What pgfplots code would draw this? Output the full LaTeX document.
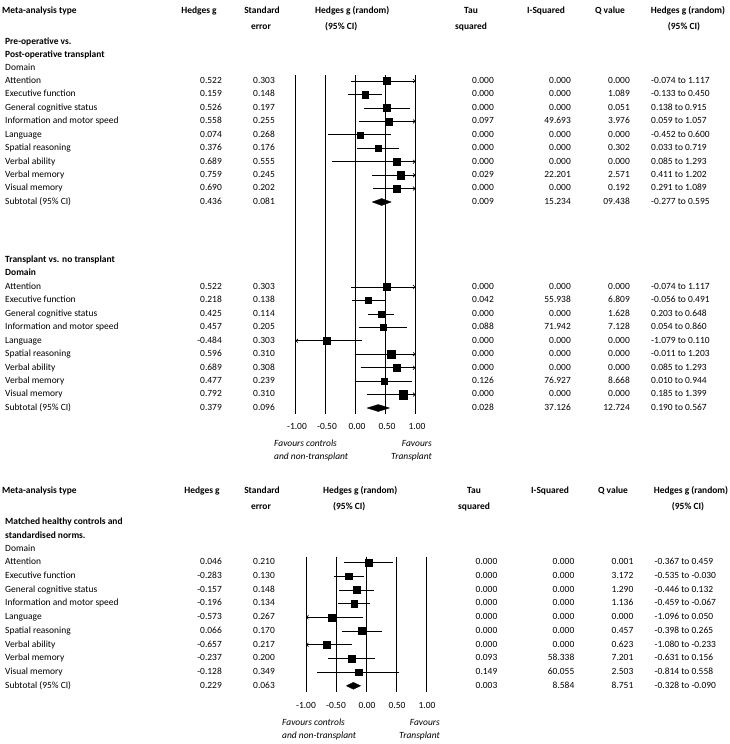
\documentclass[border=0pt]{standalone}
\usepackage{fontspec}
\setmainfont{Carlito}
\usepackage{pgfplots}
\pgfplotsset{compat=1.18}
\usetikzlibrary{arrows.meta}

\def\dx{0}
\newcommand\drow[8]{%
 \node[anchor=west] at (5bp,-#1bp) {#2};
 \node[anchor=east] at (222bp,-#1bp) {#3};
 \node[anchor=east] at (275bp,-#1bp) {#4};
 \node[anchor=east] at (494bp+\dx bp,-#1bp) {#5};
 \node[anchor=east] at (571bp+\dx bp,-#1bp) {#6};
 \node[anchor=east] at (630bp+\dx bp,-#1bp) {#7};
 \node[anchor=west] at (651bp+\dx bp,-#1bp) {#8};}

\pgfplotsset{
 cil/.style={black, line width=0.65bp, no marks},
 refl/.style={black, line width=0.8bp, no marks},
 rar/.style={-{Straight Barb[length=2bp,width=3.8bp]}},
 lar/.style={{Straight Barb[length=2bp,width=3.8bp]}-},
}
\newcommand\CI[4][]{\addplot[cil,#1] coordinates {(#2,#4) (#3,#4)};}
\newcommand\MK[3]{\addplot[only marks, mark=square*, mark size=#3bp, black] coordinates {(#1,#2)};}
\newcommand\VL[3]{\addplot[refl] coordinates {(#1,#2) (#1,#3)};}

\begin{document}
\begin{tikzpicture}[font=\fontsize{9.5}{11.4}\selectfont, every node/.style={inner sep=0pt, text height=6.6bp, text depth=2bp}]
\path[use as bounding box] (0,0) rectangle (730bp,-744bp);

% ---------------- top header ----------------
\begin{scope}[font=\fontsize{9.5}{11.4}\selectfont\bfseries]
\node[anchor=west] at (2bp,-11bp) {Meta-analysis type};
\node at (199bp,-11bp) {Hedges g};
\node at (262bp,-11bp) {Standard};
\node at (261bp,-27bp) {error};
\node[anchor=west] at (315bp,-11bp) {Hedges g (random)};
\node[anchor=west] at (325bp,-27bp) {(95\% CI)};
\node at (471bp,-11bp) {Tau};
\node at (471bp,-27bp) {squared};
\node at (546bp,-11bp) {I-Squared};
\node at (610bp,-11bp) {Q value};
\node at (688bp,-11bp) {Hedges g (random)};
\node at (684bp,-27bp) {(95\% CI)};
\node[anchor=west] at (5bp,-42bp) {Pre-operative vs.};
\node[anchor=west] at (5bp,-55bp) {Post-operative transplant};
\node[anchor=west] at (5bp,-260bp) {Transplant vs. no transplant};
\node[anchor=west] at (5bp,-273.5bp) {Domain};
\end{scope}
\node[anchor=west] at (5bp,-68bp) {Domain};

\drow{81}{Attention}{0.522}{0.303}{0.000}{0.000}{0.000}{-0.074 to 1.117}
\drow{94.5}{Executive function}{0.159}{0.148}{0.000}{0.000}{1.089}{-0.133 to 0.450}
\drow{107.9}{General cognitive status}{0.526}{0.197}{0.000}{0.000}{0.051}{0.138 to 0.915}
\drow{121.4}{Information and motor speed}{0.558}{0.255}{0.097}{49.693}{3.976}{0.059 to 1.057}
\drow{134.8}{Language}{0.074}{0.268}{0.000}{0.000}{0.000}{-0.452 to 0.600}
\drow{148.3}{Spatial reasoning}{0.376}{0.176}{0.000}{0.000}{0.302}{0.033 to 0.719}
\drow{161.7}{Verbal ability}{0.689}{0.555}{0.000}{0.000}{0.000}{0.085 to 1.293}
\drow{175.2}{Verbal memory}{0.759}{0.245}{0.029}{22.201}{2.571}{0.411 to 1.202}
\drow{188.6}{Visual memory}{0.690}{0.202}{0.000}{0.000}{0.192}{0.291 to 1.089}
\drow{202}{Subtotal (95\% CI)}{0.436}{0.081}{0.009}{15.234}{09.438}{-0.277 to 0.595}

\drow{287}{Attention}{0.522}{0.303}{0.000}{0.000}{0.000}{-0.074 to 1.117}
\drow{300.4}{Executive function}{0.218}{0.138}{0.042}{55.938}{6.809}{-0.056 to 0.491}
\drow{313.9}{General cognitive status}{0.425}{0.114}{0.000}{0.000}{1.628}{0.203 to 0.648}
\drow{327.3}{Information and motor speed}{0.457}{0.205}{0.088}{71.942}{7.128}{0.054 to 0.860}
\drow{340.8}{Language}{-0.484}{0.303}{0.000}{0.000}{0.000}{-1.079 to 0.110}
\drow{354.2}{Spatial reasoning}{0.596}{0.310}{0.000}{0.000}{0.000}{-0.011 to 1.203}
\drow{367.7}{Verbal ability}{0.689}{0.308}{0.000}{0.000}{0.000}{0.085 to 1.293}
\drow{381.1}{Verbal memory}{0.477}{0.239}{0.126}{76.927}{8.668}{0.010 to 0.944}
\drow{394.6}{Visual memory}{0.792}{0.310}{0.000}{0.000}{0.000}{0.185 to 1.399}
\drow{408}{Subtotal (95\% CI)}{0.379}{0.096}{0.028}{37.126}{12.724}{0.190 to 0.567}

% ticks and favours (top)
\node at (297bp,-427bp) {-1.00};
\node at (327bp,-427bp) {-0.50};
\node at (357bp,-427bp) {0.00};
\node at (387bp,-427bp) {0.50};
\node at (417bp,-427bp) {1.00};
\node[anchor=west] at (274bp,-444bp) {\itshape Favours controls};
\node[anchor=west] at (274bp,-457.5bp) {\itshape and non-transplant};
\node[anchor=east] at (432bp,-444bp) {\itshape Favours};
\node[anchor=east] at (432bp,-457.5bp) {\itshape Transplant};

% ---------------- bottom header ----------------
\begin{scope}[font=\fontsize{9.5}{11.4}\selectfont\bfseries]
\node[anchor=west] at (2bp,-491bp) {Meta-analysis type};
\node at (202bp,-491bp) {Hedges g};
\node at (262bp,-491bp) {Standard};
\node at (261bp,-507bp) {error};
\node[anchor=west] at (323bp,-491bp) {Hedges g (random)};
\node[anchor=west] at (333bp,-507bp) {(95\% CI)};
\node at (474bp,-491bp) {Tau};
\node at (474bp,-507bp) {squared};
\node at (550bp,-491bp) {I-Squared};
\node at (613bp,-491bp) {Q value};
\node at (691bp,-491bp) {Hedges g (random)};
\node at (688bp,-507bp) {(95\% CI)};
\node[anchor=west] at (5bp,-522bp) {Matched healthy controls and};
\node[anchor=west] at (5bp,-536bp) {standardised norms.};
\end{scope}
\node[anchor=west] at (5bp,-549.5bp) {Domain};

\def\dx{3.5}
\drow{562.5}{Attention}{0.046}{0.210}{0.000}{0.000}{0.001}{-0.367 to 0.459}
\drow{576.2}{Executive function}{-0.283}{0.130}{0.000}{0.000}{3.172}{-0.535 to -0.030}
\drow{589.9}{General cognitive status}{-0.157}{0.148}{0.000}{0.000}{1.290}{-0.446 to 0.132}
\drow{603.6}{Information and motor speed}{-0.196}{0.134}{0.000}{0.000}{1.136}{-0.459 to -0.067}
\drow{617.3}{Language}{-0.573}{0.267}{0.000}{0.000}{0.000}{-1.096 to 0.050}
\drow{631}{Spatial reasoning}{0.066}{0.170}{0.000}{0.000}{0.457}{-0.398 to 0.265}
\drow{644.7}{Verbal ability}{-0.657}{0.217}{0.000}{0.000}{0.623}{-1.080 to -0.233}
\drow{658.4}{Verbal memory}{-0.237}{0.200}{0.093}{58.338}{7.201}{-0.631 to 0.156}
\drow{672.1}{Visual memory}{-0.128}{0.349}{0.149}{60.055}{2.503}{-0.814 to 0.558}
\drow{685.8}{Subtotal (95\% CI)}{0.229}{0.063}{0.003}{8.584}{8.751}{-0.328 to -0.090}

\node at (306bp,-706bp) {-1.00};
\node at (336bp,-706bp) {-0.50};
\node at (367bp,-706bp) {0.00};
\node at (397bp,-706bp) {0.50};
\node at (427bp,-706bp) {1.00};
\node[anchor=west] at (282bp,-723bp) {\itshape Favours controls};
\node[anchor=west] at (282bp,-736.5bp) {\itshape and non-transplant};
\node[anchor=east] at (440bp,-723bp) {\itshape Favours};
\node[anchor=east] at (440bp,-736.5bp) {\itshape Transplant};

% ---------------- top forest axis ----------------
\begin{axis}[at={(289.5bp,-70bp)}, anchor=north west, x=60bp, y=1bp, y dir=reverse,
  xmin=-1.1, xmax=1.1, ymin=70, ymax=420, hide axis, clip=false]
\VL{-1}{75}{414} \VL{-0.5}{75}{414} \VL{0}{75}{414} \VL{0.5}{75}{414} \VL{1}{75}{414}
% pre vs post
\CI[rar]{-0.072}{1}{81}          \MK{0.522}{81}{3.6}
\CI{-0.131}{0.449}{94.5}         \MK{0.159}{94.5}{3.3}
\CI{0.140}{0.912}{107.9}         \MK{0.526}{107.9}{3.4}
\CI[rar]{0.058}{1}{121.4}        \MK{0.558}{121.4}{3.6}
\CI{-0.451}{0.599}{134.8}        \MK{0.074}{134.8}{3.1}
\CI{0.031}{0.721}{148.3}         \MK{0.376}{148.3}{3.3}
\CI[rar]{-0.399}{1}{161.7}       \MK{0.689}{161.7}{3.6}
\CI[rar]{0.279}{1}{175.2}        \MK{0.759}{175.2}{3.6}
\CI[rar]{0.294}{1}{188.6}        \MK{0.690}{188.6}{3.6}
\addplot[fill=black, draw=black, line width=0.3bp] coordinates {(0.277,202) (0.436,198.5) (0.595,202) (0.436,205.5) (0.277,202)};
% transplant vs none
\CI[rar]{-0.072}{1}{287}         \MK{0.522}{287}{3.6}
\CI{-0.052}{0.488}{300.4}        \MK{0.218}{300.4}{3.0}
\CI{0.202}{0.648}{313.9}         \MK{0.425}{313.9}{2.9}
\CI{0.055}{0.859}{327.3}         \MK{0.457}{327.3}{2.9}
\CI[lar]{-1}{0.110}{340.8}       \MK{-0.484}{340.8}{3.5}
\CI[rar]{-0.012}{1}{354.2}       \MK{0.596}{354.2}{3.6}
\CI[rar]{0.085}{1}{367.7}        \MK{0.689}{367.7}{3.6}
\CI{0.009}{0.945}{381.1}         \MK{0.477}{381.1}{3.1}
\CI[rar]{0.184}{1}{394.6}        \MK{0.792}{394.6}{4.2}
\addplot[fill=black, draw=black, line width=0.3bp] coordinates {(0.191,408) (0.379,404.5) (0.567,408) (0.379,411.5) (0.191,408)};
\end{axis}

% ---------------- bottom forest axis ----------------
\begin{axis}[at={(300bp,-550bp)}, anchor=north west, x=60bp, y=1bp, y dir=reverse,
  xmin=-1.1, xmax=1.1, ymin=550, ymax=700, hide axis, clip=false]
\VL{-1}{556.5}{692} \VL{-0.5}{556.5}{692} \VL{0}{556.5}{692} \VL{0.5}{556.5}{692} \VL{1}{556.5}{692}
\CI{-0.366}{0.458}{562.5}        \MK{0.046}{562.5}{3.6}
\CI{-0.538}{-0.028}{576.2}       \MK{-0.283}{576.2}{3.4}
\CI{-0.447}{0.133}{589.9}        \MK{-0.157}{589.9}{3.4}
\CI{-0.459}{0.067}{603.6}        \MK{-0.196}{603.6}{3.4}
\CI[lar]{-1}{-0.050}{617.3}      \MK{-0.573}{617.3}{3.6}
\CI{-0.399}{0.267}{631}          \MK{-0.066}{631}{3.6}
\CI[lar]{-1}{-0.232}{644.7}      \MK{-0.657}{644.7}{3.6}
\CI{-0.629}{0.155}{658.4}        \MK{-0.237}{658.4}{3.4}
\CI{-0.812}{0.556}{672.1}        \MK{-0.128}{672.1}{3.4}
\addplot[fill=black, draw=black, line width=0.3bp] coordinates {(-0.328,685.8) (-0.209,682.3) (-0.090,685.8) (-0.209,689.3) (-0.328,685.8)};
\end{axis}
\end{tikzpicture}
\end{document}
